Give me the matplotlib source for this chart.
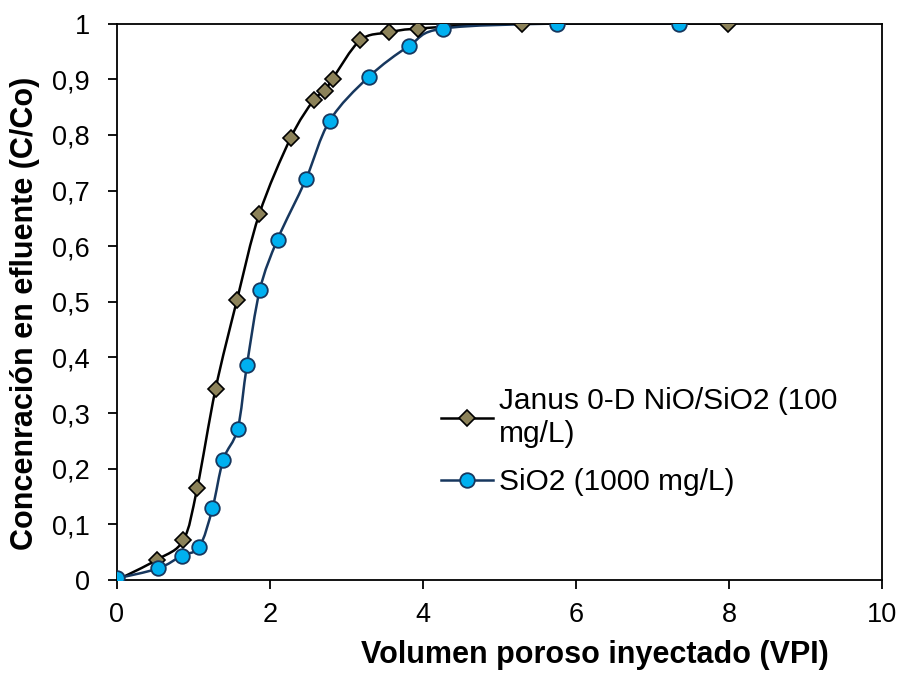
import matplotlib
matplotlib.use("Agg")
import matplotlib.pyplot as plt
import numpy as np
from matplotlib.path import Path
from matplotlib.patches import PathPatch
from matplotlib.lines import Line2D

plt.rcParams['font.family'] = ['Liberation Sans', 'DejaVu Sans']

# Janus 0-D NiO/SiO2 (100 mg/L)
janus_x = [0, 0.53, 0.87, 1.05, 1.29, 1.57, 1.86, 2.27, 2.57, 2.72, 2.82, 3.18, 3.55, 3.94, 5.29, 7.99]
janus_y = [0, 0.037, 0.072, 0.165, 0.343, 0.503, 0.657, 0.794, 0.862, 0.879, 0.901, 0.970, 0.984, 0.991, 1.0, 1.0]

# SiO2 (1000 mg/L)
sio2_x = [0, 0.54, 0.85, 1.08, 1.25, 1.39, 1.58, 1.70, 1.87, 2.10, 2.47, 2.78, 3.29, 3.82, 4.26, 5.75, 7.35]
sio2_y = [0.003, 0.021, 0.044, 0.060, 0.129, 0.216, 0.272, 0.386, 0.522, 0.612, 0.720, 0.825, 0.904, 0.960, 0.991, 1.0, 1.0]

x_ticks = [0, 2, 4, 6, 8, 10]
y_ticks = [0, 0.1, 0.2, 0.3, 0.4, 0.5, 0.6, 0.7, 0.8, 0.9, 1.0]
y_tick_labels = ["0", "0,1", "0,2", "0,3", "0,4", "0,5", "0,6", "0,7", "0,8", "0,9", "1"]


def smooth_path(x, y):
    # excel-style smoothed line: cubic bezier through the points
    p = np.column_stack([x, y])
    n = len(p)
    verts = [p[0]]
    codes = [Path.MOVETO]
    for i in range(n - 1):
        p0 = p[max(i - 1, 0)]
        p3 = p[min(i + 2, n - 1)]
        c1 = p[i] + (p[i + 1] - p0) / 6
        c2 = p[i + 1] - (p3 - p[i]) / 6
        verts += [c1, c2, p[i + 1]]
        codes += [Path.CURVE4] * 3
    return Path(verts, codes)


fig = plt.figure(figsize=(9.05, 6.73), dpi=100)
ax = fig.add_axes([0.129, 0.138, 0.846, 0.827])

janus_style = dict(color='black', lw=1.8, marker='D', ms=8,
                   mfc='#8C8259', mec='black', mew=1.2)
sio2_style = dict(color='#17375E', lw=1.8, marker='o', ms=10.5,
                  mfc='#00B0F0', mec='#17375E', mew=1.3)

ax.add_patch(PathPatch(smooth_path(janus_x, janus_y), fc='none', ec='black', lw=1.8, zorder=2))
ax.add_patch(PathPatch(smooth_path(sio2_x, sio2_y), fc='none', ec='#17375E', lw=1.8, zorder=2.5))
ax.plot(janus_x, janus_y, ls='none', zorder=3, **{k: v for k, v in janus_style.items() if k not in ('color', 'lw')})
ax.plot(sio2_x, sio2_y, ls='none', zorder=4, **{k: v for k, v in sio2_style.items() if k not in ('color', 'lw')})

ax.set_xlim(0, 10)
ax.set_ylim(0, 1)
ax.set_xticks(x_ticks)
ax.set_yticks(y_ticks)
ax.set_yticklabels(y_tick_labels)
ax.tick_params(direction='out', length=6.5, width=1.3, labelsize=19.5)
ax.tick_params(axis='x', pad=9)
ax.tick_params(axis='y', pad=13)
for s in ax.spines.values():
    s.set_linewidth(1.3)
    s.set_color('black')

ax.set_xlabel("Volumen poroso inyectado (VPI)", fontsize=22, fontweight='bold')
ax.xaxis.set_label_coords(0.625, -0.108)
ax.set_ylabel("Concenración en efluente (C/Co)", fontsize=22, fontweight='bold')
ax.yaxis.set_label_coords(-0.1, 0.48)

handles = [Line2D([], [], **janus_style), Line2D([], [], **sio2_style)]
labels = ["Janus 0-D NiO/SiO2 (100\nmg/L)", "SiO2 (1000 mg/L)"]
ax.legend(handles, labels, loc='upper left', bbox_to_anchor=(0.388, 0.395), frameon=False,
          fontsize=21.5, handlelength=1.75, handletextpad=0.2, labelspacing=0.7)

fig.savefig("out.png", dpi=100)
